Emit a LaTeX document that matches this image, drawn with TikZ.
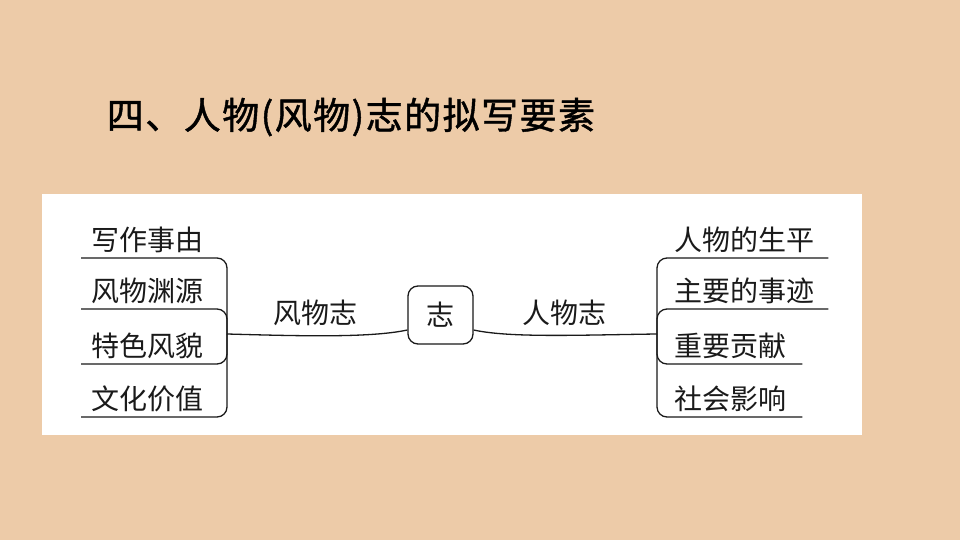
\documentclass[tikz,border=0pt]{standalone}
\usepackage{fontspec}
\newfontfamily\cjk{Noto Sans CJK SC}
\newfontfamily\cjktitle[FakeBold=1.2,LetterSpace=4]{Noto Sans CJK SC}
\definecolor{bgpeach}{HTML}{EDCBA8}
\definecolor{ink}{HTML}{1A1A1A}
\tikzset{
  txt/.style={font=\cjk\fontsize{28}{34}\selectfont, text=ink, inner sep=0pt},
  leaf/.style={txt, minimum height=36pt, text width=#1, align=left},
  wire/.style={draw=ink, line width=1.3pt, rounded corners=10pt},
  hubbox/.style={txt, draw=ink, line width=1.3pt, rounded corners=10pt, minimum width=65pt, minimum height=58pt}
}
\begin{document}
\begin{tikzpicture}[x=1pt,y=-1pt]
\fill[bgpeach] (0,0) rectangle (960,540);
\useasboundingbox (0,0) rectangle (960,540);
\fill[white] (42,194) rectangle (862,435);

\node[font=\cjktitle\fontsize{37}{41}\selectfont, text=black, inner sep=0pt] (title) at (351,117) {四、人物(风物)志的拟写要素};

\node[hubbox] (zhi) at (440.5,315) {志};
\node[txt] (fw) at (315,313) {风物志};
\node[txt] (rw) at (564,313) {人物志};

\coordinate (L) at (227,334);
\coordinate (R) at (657,334);

% left leaves
\begin{scope}[every node/.append style={execute at begin node=\hspace*{10pt}}]
\node[leaf=146pt, anchor=south west] (a1) at (81,258) {写作事由};
\node[leaf=146pt, anchor=south west] (a2) at (81,309) {风物渊源};
\node[leaf=146pt, anchor=south west] (a3) at (81,364) {特色风貌};
\node[leaf=146pt, anchor=south west] (a4) at (81,417) {文化价值};
\end{scope}
% right leaves
\begin{scope}[every node/.append style={execute at begin node=\hspace*{17pt}}]
\node[leaf=171pt, anchor=south west] (b1) at (657,258) {人物的生平};
\node[leaf=171pt, anchor=south west] (b2) at (657,309) {主要的事迹};
\node[leaf=145pt, anchor=south west] (b3) at (657,364) {重要贡献};
\node[leaf=145pt, anchor=south west] (b4) at (657,417) {社会影响};
\end{scope}

% hub connectors
\draw[wire] ([yshift=-15pt]zhi.west) .. controls (370,338) and (300,336) .. (L);
\draw[wire] ([yshift=-15pt]zhi.east) .. controls (510,338) and (580,335) .. (R);

% left branches
\foreach \n in {a1,a2,a3,a4}
  \draw[wire] (L) |- (\n.south west);
% right branches
\foreach \n in {b1,b2,b3,b4}
  \draw[wire] (R) |- (\n.south east);
\end{tikzpicture}
\end{document}
